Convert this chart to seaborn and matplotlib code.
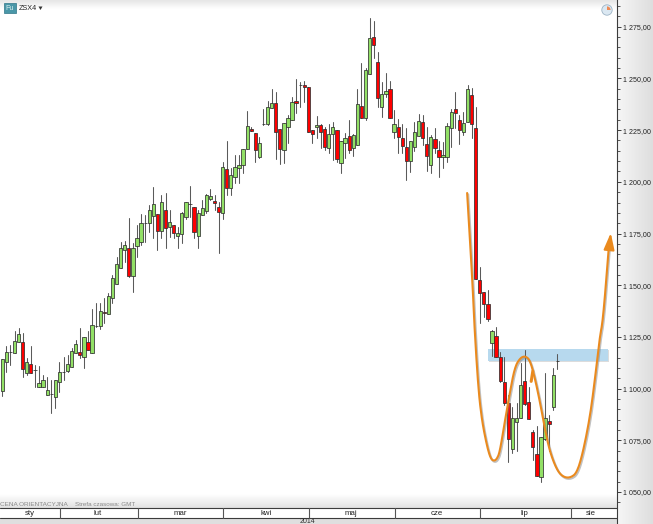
import numpy as np
import pandas as pd
import matplotlib
matplotlib.use("Agg")
import matplotlib.pyplot as plt
from matplotlib.patches import Rectangle, Circle, Polygon, Wedge
from matplotlib.colors import LinearSegmentedColormap
import matplotlib.patheffects as pe
from matplotlib.ticker import FixedLocator, FuncFormatter
import seaborn as sns

upper = [1114.3,1117.7,1117.7,1123.0,1126.4,1122.5,1112.9,1111.9,1109.0,1102.7,
 1104.2,1099.3,1097.4,1104.2,1108.0,1108.0,1111.9,1118.2,1121.6,1117.7,
 1125.0,1122.5,1130.8,1130.3,1137.5,1137.0,1144.8,1153.5,1160.3,1168.0,
 1169.5,1168.0,1168.0,1172.8,1180.1,1180.1,1186.4,1189.3,1184.4,1190.2,
 1186.4,1180.6,1179.1,1175.3,1184.9,1190.2,1189.3,1187.8,1184.9,1187.3,
 1193.6,1193.1,1190.7,1187.8,1207.2,1206.2,1203.3,1207.2,1208.1,1215.9,
 1227.0,1225.5,1223.6,1218.8,1228.0,1236.2,1238.1,1238.1,1225.5,1228.4,
 1230.9,1238.6,1239.1,1246.8,1246.8,1245.9,1225.1,1227.5,1227.5,1225.5,
 1223.1,1226.5,1225.1,1219.7,1221.2,1222.2,1222.6,1237.6,1236.7,1254.1,
 1269.6,1270.0,1258.0,1242.5,1243.9,1244.9,1228.0,1226.5,1221.2,1216.8,
 1219.7,1224.1,1229.4,1228.9,1218.3,1221.7,1220.7,1215.4,1213.0,1227.0,
 1233.8,1235.2,1229.9,1228.4,1244.9,1242.0,1226.0,1152.5,1146.7,1140.9,
 1127.9,1125.4,1115.3,1103.2,1093.0,1085.8,1085.8,1101.7,1103.7,1093.5,
 1079.0,1068.4,1076.6,1085.8,1084.3,1106.6,1113.4]
lower = [1098.8,1112.9,1117.7,1117.2,1122.5,1109.5,1107.5,1107.5,1109.0,1100.8,
 1100.8,1096.9,1097.4,1095.9,1103.2,1108.0,1108.5,1110.5,1117.2,1116.3,
 1115.3,1118.7,1117.2,1130.3,1130.3,1136.6,1136.1,1143.8,1150.6,1158.3,
 1167.0,1154.5,1154.5,1169.0,1170.9,1180.1,1180.1,1183.5,1176.2,1176.2,
 1177.7,1178.2,1175.3,1173.8,1174.8,1183.0,1189.3,1175.7,1173.8,1184.0,
 1185.9,1191.7,1189.8,1185.4,1184.9,1197.0,1197.0,1202.3,1206.7,1208.1,
 1215.9,1224.6,1215.4,1212.0,1228.0,1228.0,1235.7,1224.1,1215.9,1215.4,
 1226.5,1229.9,1238.1,1246.8,1245.9,1224.1,1223.1,1226.5,1224.1,1216.8,
 1216.4,1223.1,1211.0,1209.1,1218.8,1215.4,1216.4,1217.8,1230.9,1230.9,
 1252.1,1266.2,1240.5,1236.2,1242.5,1230.9,1224.1,1221.7,1217.3,1210.1,
 1210.1,1216.8,1222.2,1221.2,1212.5,1208.1,1216.4,1212.0,1212.0,1212.0,
 1226.0,1233.3,1225.1,1224.1,1228.9,1228.0,1153.0,1146.2,1140.9,1133.7,
 1122.1,1115.3,1103.7,1093.0,1075.6,1070.8,1083.9,1085.8,1092.6,1085.3,
 1071.8,1057.7,1057.3,1075.6,1082.9,1091.1,1113.4]
high = [1114.3,1120.6,1121.1,1127.9,1129.3,1126.9,1114.8,1120.6,1111.4,1110.9,
 1106.6,1105.6,1104.2,1104.2,1112.9,1115.3,1116.3,1119.6,1123.5,1129.3,
 1125.0,1127.9,1138.5,1141.4,1141.4,1143.8,1146.2,1154.9,1163.6,1170.9,
 1171.4,1182.5,1170.4,1179.1,1184.4,1184.0,1188.8,1197.5,1184.4,1193.6,
 1194.6,1186.4,1179.1,1178.2,1185.4,1190.2,1198.0,1187.8,1186.4,1191.2,
 1194.1,1196.5,1193.6,1190.2,1209.6,1219.7,1206.7,1213.0,1213.0,1215.9,
 1234.3,1226.5,1223.6,1221.7,1235.2,1239.1,1244.9,1243.4,1225.5,1228.4,
 1232.3,1241.0,1249.7,1248.3,1248.8,1245.9,1225.1,1231.8,1228.0,1226.5,
 1228.0,1228.9,1225.1,1219.7,1223.6,1229.9,1223.1,1244.9,1257.5,1255.0,
 1279.2,1277.8,1262.8,1248.3,1252.6,1248.8,1234.7,1230.4,1228.0,1226.0,
 1219.7,1228.9,1232.8,1232.3,1226.5,1222.6,1226.0,1219.7,1219.3,1228.4,
 1235.2,1243.4,1232.3,1233.8,1246.8,1245.4,1236.2,1158.8,1146.7,1147.7,
 1128.3,1129.8,1117.7,1115.3,1096.9,1091.1,1093.0,1112.4,1118.7,1100.8,
 1080.0,1081.9,1076.6,1107.5,1087.2,1110.0,1116.7]
low = [1096.4,1108.0,1111.4,1117.2,1122.5,1105.6,1106.6,1107.5,1100.8,1100.8,
 1100.8,1096.9,1088.2,1090.6,1098.4,1104.2,1108.0,1110.5,1117.2,1114.8,
 1110.0,1118.7,1117.2,1129.8,1128.8,1131.7,1136.1,1141.4,1150.6,1158.3,
 1161.2,1154.0,1146.7,1163.6,1169.5,1170.9,1175.7,1172.8,1167.0,1172.8,
 1168.0,1173.3,1172.8,1168.0,1170.4,1182.0,1183.0,1172.8,1168.0,1184.0,
 1184.9,1191.2,1186.4,1165.6,1182.0,1193.6,1193.6,1199.4,1199.4,1204.3,
 1215.9,1224.6,1209.6,1211.5,1227.5,1227.5,1235.7,1211.0,1208.6,1209.1,
 1218.8,1229.9,1233.3,1236.2,1238.6,1224.1,1218.8,1221.2,1216.4,1215.4,
 1213.9,1210.6,1209.6,1204.3,1211.5,1213.9,1212.5,1217.8,1230.9,1229.9,
 1252.1,1259.9,1236.2,1231.4,1241.0,1230.9,1221.2,1213.9,1213.9,1200.9,
 1204.8,1214.9,1222.2,1217.8,1205.2,1204.3,1213.9,1202.3,1206.7,1209.6,
 1216.8,1226.0,1218.3,1222.6,1228.9,1221.2,1153.0,1131.7,1134.6,1132.7,
 1115.8,1115.3,1103.2,1092.1,1064.5,1068.9,1069.8,1085.8,1092.1,1085.3,
 1065.5,1057.7,1054.8,1075.1,1069.8,1089.7,1109.5]
direction = ("GGDGGRGRDG" "GGDGGDGGGR" "GRGDGRGGGG" "GRGGGDGGRG" "RGRGGGDRGG"
             "GGRRGRGGGG" "GRRGDGGRRG" "GGRDRRRGRR" "GGRGGRGGRG" "GRRGGRGRRR"
             "GGGRRGRRGG" "GRRGGRRRRR" "GRRRRGGGRR" "RRGGRGD")

curve_idx = [113.9,114.6,115.3,115.6,116.6,117.5,118.8,119.7,120.5,121.2,121.9,123.2,124.4,125.6,126.9,
             128.1,129.3,130.5,131.8,133.0,134.2,135.9,137.4,139.1,140.8,142.3,144.0,145.2,146.4,147.2,148.7]
curve_price = [1194.6,1171.9,1147.7,1133.2,1100.8,1084.8,1071.8,1066.0,1065.0,1066.0,1069.3,1084.8,1098.4,1110.5,1114.8,
               1115.8,1113.8,1105.1,1093.0,1080.0,1069.3,1060.6,1057.3,1056.8,1059.2,1069.3,1086.3,1104.2,1125.0,1133.2,1170.4]
arrow_tip = (149.1, 1175.3)
band_idx = (119.0, 148.4)
band_price = (1113.4, 1119.2)

price_ticks = [1050, 1075, 1100, 1125, 1150, 1175, 1200, 1225, 1250, 1275]
months = ["sty", "lut", "mar", "kwi", "maj", "cze", "lip", "sie"]
month_x = [30, 98, 180, 266, 351, 437, 524, 591]
month_sep = [59.5, 137.5, 223, 309, 394.5, 480, 570.5]

sns.set_theme(style="white")
plt.rcParams["font.family"] = ["Liberation Sans", "DejaVu Sans"]

W, H = 653, 524
fig = plt.figure(figsize=(W / 100, H / 100), dpi=100, facecolor="white")

# window furniture, in pixel units
bg = fig.add_axes([0, 0, 1, 1], zorder=0)
bg.axis("off")
cm_panel = LinearSegmentedColormap.from_list("p", ["#f6f6f6", "#dedede"])
bg.imshow(np.linspace(0, 1, 64)[None, :], extent=(617, 653, 524, 0), cmap=cm_panel, aspect="auto", vmin=0, vmax=1)
cm_top = LinearSegmentedColormap.from_list("t", ["#e6e6e6", "#ffffff"])
bg.imshow(np.linspace(0, 1, 32)[:, None], extent=(0, 617, 9, 0), cmap=cm_top, aspect="auto", vmin=0, vmax=1)
cm_bot = LinearSegmentedColormap.from_list("b", ["#ffffff", "#e2e2e2"])
bg.imshow(np.linspace(0, 1, 32)[:, None], extent=(0, 617, 508, 494), cmap=cm_bot, aspect="auto", vmin=0, vmax=1)
bg.add_patch(Rectangle((0, 508), 617, 10, fc="white", ec="none"))
bg.add_patch(Rectangle((0, 518), 617, 6, fc="#dfdfdf", ec="none"))
bg.plot([0, 617], [508, 508], color="#3c3c3c", lw=0.8)
bg.plot([0, 617], [518.3, 518.3], color="#3c3c3c", lw=0.8)
bg.plot([617, 617], [508, 524], color="#3c3c3c", lw=0.8)
for s in month_sep:
    bg.plot([s, s], [508, 518], color="#555555", lw=0.8)
for m, x in zip(months, month_x):
    bg.text(x, 513.3, m, ha="center", va="center", fontsize=5.6, color="#222222")
bg.text(307, 521.2, "2014", ha="center", va="center", fontsize=5.0, color="#333333")
bg.text(0, 504, "CENA ORIENTACYJNA", ha="left", va="center", fontsize=4.6, color="#8a8a8a")
bg.text(75, 504.3, "Strefa czasowa: GMT", ha="left", va="center", fontsize=4.5, color="#8a8a8a")
bg.add_patch(Rectangle((4, 3), 12, 10, fc="#4a97a8", ec="#2f7688", lw=0.5))
bg.text(10, 8.2, "Fu", ha="center", va="center", fontsize=5, color="#dff2f2")
bg.text(19, 8.5, "ZSX4", ha="left", va="center", fontsize=5.2, color="#222222")
bg.add_patch(Polygon([[38.5, 6.5], [42.5, 6.5], [40.5, 10]], fc="#333333", ec="none"))
bg.add_patch(Circle((607, 10), 5.2, fc="#dbe8f2", ec="#9db4c6", lw=0.6))
bg.add_patch(Wedge((607, 10), 3.6, 270, 360, fc="#ee8a55", ec="none"))
bg.set_xlim(0, W)
bg.set_ylim(H, 0)

# price chart
x0, dx = 2.3, 4.081
y0_price, k = 1050.0, 0.4836
ax = fig.add_axes([0, (H - 508) / H, 617 / W, 508 / H], zorder=1)
ax.patch.set_alpha(0)
idx = np.arange(len(upper))
ax.set_xlim((0 - x0) / dx, (617 - x0) / dx)
ax.set_ylim(y0_price - 16 * k, y0_price + 492 * k)

ax.add_patch(Rectangle((band_idx[0], band_price[0]), band_idx[1] - band_idx[0], band_price[1] - band_price[0],
                       fc="#b7d9ee", ec="none", zorder=1,
                       path_effects=[pe.SimplePatchShadow(offset=(0.6, -0.8), shadow_rgbFace="#bbbbbb", alpha=0.5), pe.Normal()]))

wicks = pd.DataFrame({"i": np.repeat(idx, 2),
                      "price": np.column_stack([low, high]).ravel()})
sns.lineplot(data=wicks, x="i", y="price", units="i", estimator=None, color="#5a5a5a",
             lw=0.75, ax=ax, legend=False, zorder=2)

colors = {"G": "#92e066", "R": "#ff0000", "D": "#222222"}
ax.bar(idx, np.array(upper) - np.array(lower), bottom=lower, width=0.8,
       color=[colors[d] for d in direction], edgecolor="#303030", linewidth=0.55, zorder=3)

# drawn-on projection curve
pts = np.column_stack([curve_idx, curve_price])
for _ in range(3):
    q = 0.75 * pts[:-1] + 0.25 * pts[1:]
    r = 0.25 * pts[:-1] + 0.75 * pts[1:]
    mid = np.empty((q.shape[0] * 2, 2))
    mid[0::2], mid[1::2] = q, r
    pts = np.vstack([pts[0], mid, pts[-1]])
curve = pd.DataFrame({"i": pts[:, 0], "price": pts[:, 1]})
orange = "#ea8a1e"
sns.lineplot(data=curve, x="i", y="price", sort=False, estimator=None, color=orange, lw=1.5, ax=ax,
             legend=False, zorder=5,
             path_effects=[pe.SimpleLineShadow(offset=(0.8, -1.0), shadow_color="#777777", alpha=0.45), pe.Normal()])
ax.annotate("", xy=arrow_tip, xytext=(curve_idx[-1], curve_price[-1] - 3),
            arrowprops=dict(arrowstyle="-|>,head_length=1.0,head_width=0.32", color=orange, lw=1.5, mutation_scale=10, shrinkA=0, shrinkB=0),
            zorder=6)
ax.plot([130.0, 129.6], [1108.5, 1103.5], color=orange, lw=2.2, zorder=6)

ax.set_xlabel("")
ax.set_ylabel("")
ax.set_xticks([])
for s in ("top", "left", "bottom"):
    ax.spines[s].set_visible(False)
ax.spines["right"].set_visible(True)
ax.spines["right"].set_color("#3c3c3c")
ax.spines["right"].set_linewidth(0.8)
ax.yaxis.tick_right()
ax.yaxis.set_major_locator(FixedLocator(price_ticks))
ax.yaxis.set_minor_locator(FixedLocator(np.arange(1045, 1290, 5)))
ax.yaxis.set_major_formatter(FuncFormatter(lambda v, _: f"{int(v):,}".replace(",", " ") + ",00"))
ax.tick_params(axis="y", which="major", direction="out", length=3.2, width=0.7, color="#3c3c3c",
               pad=1.2, labelsize=5.1, labelcolor="#222222", right=True)
ax.tick_params(axis="y", which="minor", direction="out", length=2, width=0.7, color="#555555", right=True)

fig.savefig("out.png", dpi=100)
